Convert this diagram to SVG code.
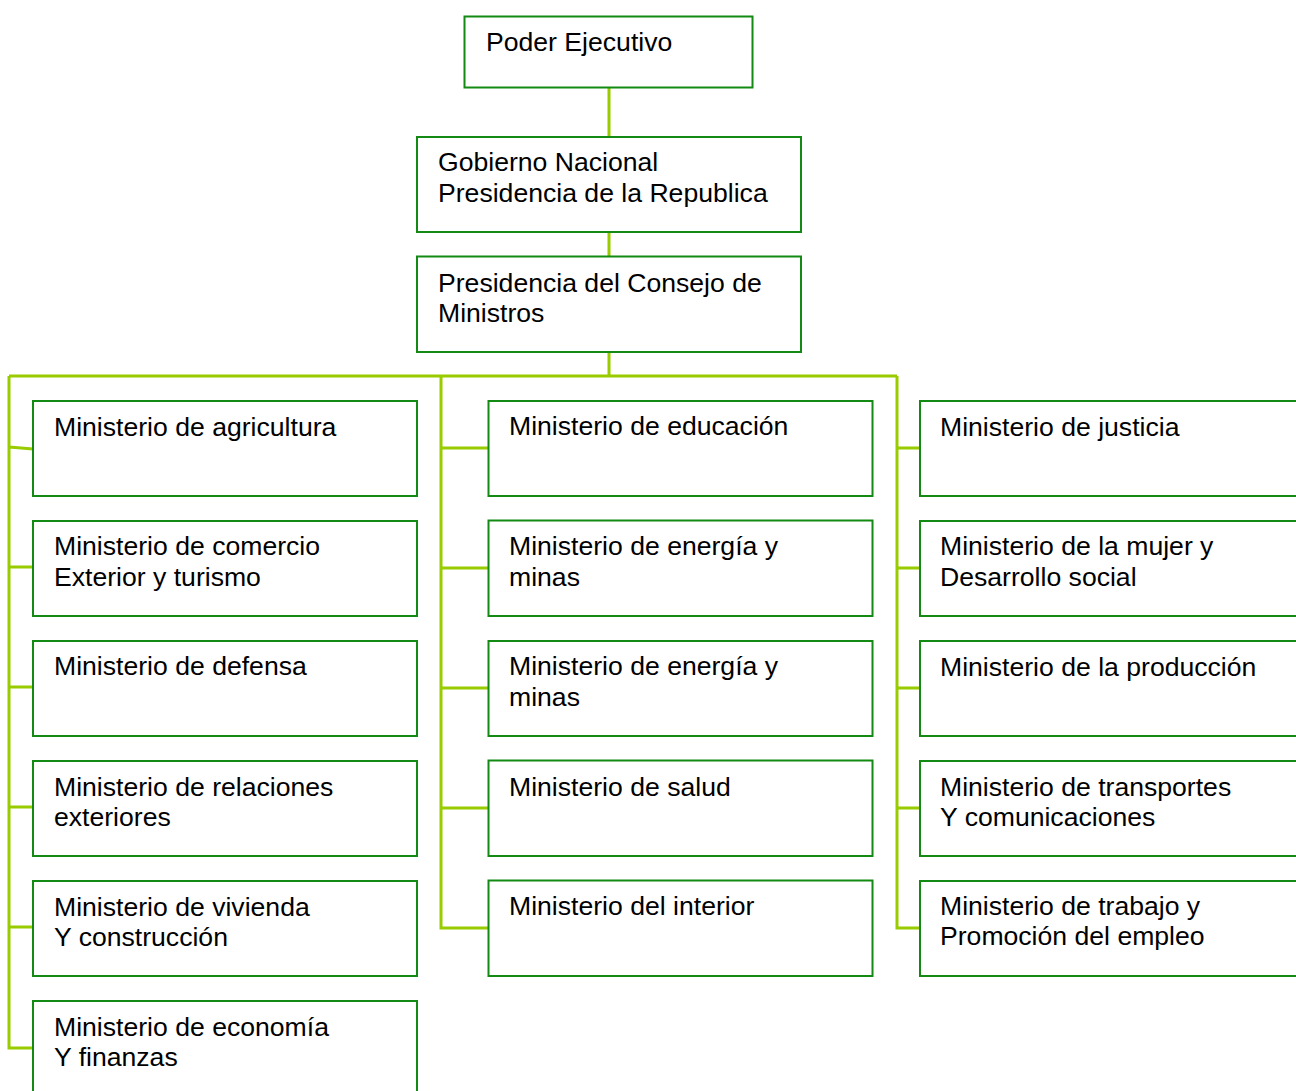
<svg xmlns="http://www.w3.org/2000/svg" width="1296" height="1091" viewBox="0 0 1296 1091">
<style>
.box{fill:#fff;stroke:#138a13;stroke-width:2}
.c{fill:none;stroke:#99cc00;stroke-width:3;stroke-linejoin:miter}
text{font-family:"Liberation Sans",Arial,sans-serif;font-size:26.6px;fill:#000}
</style>
<rect width="1296" height="1091" fill="#fff"/>
<g id="connectors">
<path class="c" d="M609 88V137M609 232V256M609 352V376M9 376H897"/>
<path class="c" d="M9 376V1048H33M9 447L33 449M9 567H33M9 687H33M9 807H33M9 927H33"/>
<path class="c" d="M441 376V928H488M441 448H488M441 568H488M441 688H488M441 808H488"/>
<path class="c" d="M897 376V928H920M897 448H920M897 568H920M897 688H920M897 808H920"/>
</g>
<g id="n0"><rect class="box" x="464.5" y="16.5" width="288" height="71"/><text x="486" y="51">Poder Ejecutivo</text></g>
<g id="n1"><rect class="box" x="417" y="137" width="384" height="95"/><text x="438" y="171">Gobierno Nacional</text><text x="438" y="202">Presidencia de la Republica</text></g>
<g id="n2"><rect class="box" x="417" y="256.5" width="384" height="95.5"/><text x="438" y="292">Presidencia del Consejo de</text><text x="438" y="322">Ministros</text></g>
<g id="l1"><rect class="box" x="33" y="401" width="384" height="95"/><text x="54" y="436">Ministerio de agricultura</text></g>
<g id="l2"><rect class="box" x="33" y="521" width="384" height="95"/><text x="54" y="555">Ministerio de comercio</text><text x="54" y="586">Exterior y turismo</text></g>
<g id="l3"><rect class="box" x="33" y="641" width="384" height="95"/><text x="54" y="675">Ministerio de defensa</text></g>
<g id="l4"><rect class="box" x="33" y="761" width="384" height="95"/><text x="54" y="796">Ministerio de relaciones</text><text x="54" y="826">exteriores</text></g>
<g id="l5"><rect class="box" x="33" y="881" width="384" height="95"/><text x="54" y="916">Ministerio de vivienda</text><text x="54" y="946">Y construcción</text></g>
<g id="l6"><rect class="box" x="33" y="1001" width="384" height="100"/><text x="54" y="1036">Ministerio de economía</text><text x="54" y="1066">Y finanzas</text></g>
<g id="m1"><rect class="box" x="488.5" y="401" width="384" height="95"/><text x="509" y="435">Ministerio de educación</text></g>
<g id="m2"><rect class="box" x="488.5" y="520.5" width="384" height="95.5"/><text x="509" y="555">Ministerio de energía y</text><text x="509" y="586">minas</text></g>
<g id="m3"><rect class="box" x="488.5" y="641" width="384" height="95"/><text x="509" y="675">Ministerio de energía y</text><text x="509" y="706">minas</text></g>
<g id="m4"><rect class="box" x="488.5" y="760.5" width="384" height="95.5"/><text x="509" y="796">Ministerio de salud</text></g>
<g id="m5"><rect class="box" x="488.5" y="880.5" width="384" height="95.5"/><text x="509" y="915">Ministerio del interior</text></g>
<g id="r1"><rect class="box" x="920" y="401" width="400" height="95"/><text x="940" y="436">Ministerio de justicia</text></g>
<g id="r2"><rect class="box" x="920" y="521" width="400" height="95"/><text x="940" y="555">Ministerio de la mujer y</text><text x="940" y="586">Desarrollo social</text></g>
<g id="r3"><rect class="box" x="920" y="641" width="400" height="95"/><text x="940" y="676">Ministerio de la producción</text></g>
<g id="r4"><rect class="box" x="920" y="761" width="400" height="95"/><text x="940" y="796">Ministerio de transportes</text><text x="940" y="826">Y comunicaciones</text></g>
<g id="r5"><rect class="box" x="920" y="881" width="400" height="95"/><text x="940" y="915">Ministerio de trabajo y</text><text x="940" y="945">Promoción del empleo</text></g>
</svg>
